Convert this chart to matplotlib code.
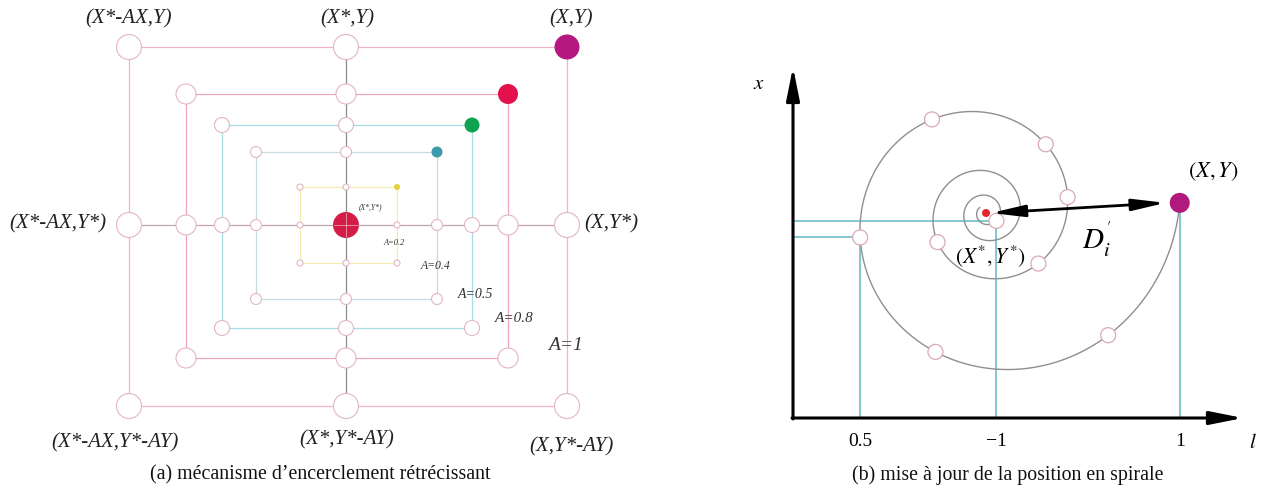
import numpy as np
import matplotlib.pyplot as plt
from matplotlib.patches import Circle

W, H = 1262, 497

# ---- panel (a): shrinking encircling ----
center_a = (346, 225)
A_labels = ['A=1', 'A=0.8', 'A=0.5', 'A=0.4', 'A=0.2']
half_left = [217, 160, 124, 90, 46]
half_right = [221, 162, 126, 91, 51]
half_up = [178, 131, 100, 73, 38]
half_down = [181, 133, 103, 74, 38]
node_r = [12.5, 10, 7.5, 5.5, 3]
line_colors = ['#f2b3c5', '#f0a6b9', '#a9dbe6', '#c9d9e2', '#f3ecb0']
corner_colors = ['#b5187f', '#e3124c', '#0fa351', '#3b9aab', '#e6cf3f']
A_label_xy = [(565, 346), (514, 319), (475, 294), (436, 266), (394, 243)]
A_label_size = [14, 11, 10, 8.5, 6]

corner_text = ['(X*-AX,Y)', '(X*,Y)', '(X,Y)', '(X*-AX,Y*)', '(X,Y*)',
               '(X*-AX,Y*-AY)', '(X*,Y*-AY)', '(X,Y*-AY)']
corner_text_xy = [(129, 19), (347, 19), (571, 19), (58, 224), (611, 224),
                  (115, 443), (347, 440), (571, 447)]

# ---- panel (b): spiral update ----
origin_b = (793, 418)
y_tip = 67
x_tip = 1243
sp_center = (986, 213)
sp_r0 = 194
sp_k = 0.138          # decay per radian
sp_start, sp_end = -3, 1300   # degrees
sp_marks = [45, 110, 169, 240, 311, 349, 404, 509, 1117]
tick_marks = {'0.5': 169, '\u22121': 1117}


def spiral_xy(deg):
    deg = np.asarray(deg, float)
    r = sp_r0 * np.exp(-sp_k * np.radians(deg - sp_start))
    t = np.radians(deg)
    return sp_center[0] + r * np.cos(t), sp_center[1] + r * np.sin(t)


fig = plt.figure(figsize=(W / 100, H / 100), dpi=100)
ax = fig.add_axes([0, 0, 1, 1])
ax.set_xlim(0, W)
ax.set_ylim(H, 0)
ax.set_aspect('equal')
ax.axis('off')

serif = 'Liberation Serif'
cx, cy = center_a

# center cross
ax.plot([cx, cx], [cy - half_up[0], cy + half_down[0]], color='#8c8c8c', lw=0.9, zorder=2)
ax.plot([cx - half_left[0], cx + half_right[0]], [cy, cy], color='#c4a6ae', lw=0.9, zorder=2)

for i in range(len(A_labels)):
    L, R = cx - half_left[i], cx + half_right[i]
    T, B = cy - half_up[i], cy + half_down[i]
    ax.plot([L, R, R, L, L], [T, T, B, B, T], color=line_colors[i], lw=0.9, zorder=1)
    nodes = [(L, T), (cx, T), (L, cy), (R, cy), (L, B), (cx, B), (R, B)]
    for (px, py) in nodes:
        ax.add_patch(Circle((px, py), node_r[i], facecolor='white',
                            edgecolor='#e2b6c3', lw=0.8, zorder=3))
    ax.add_patch(Circle((R, T), node_r[i], facecolor=corner_colors[i],
                        edgecolor='none', zorder=4))
    ax.text(*A_label_xy[i], A_labels[i], family=serif, style='italic',
            fontsize=A_label_size[i], ha='center', va='center', color='#333333', zorder=6)

ax.add_patch(Circle((cx, cy), 13, facecolor='#d31d46', edgecolor='none', zorder=4))
ax.plot([cx - 12, cx + 12], [cy, cy], color='#f3b8c4', lw=0.5, zorder=5)
ax.plot([cx, cx], [cy - 12, cy + 12], color='#f3b8c4', lw=0.5, zorder=5)
ax.text(cx + 24, cy - 18, '(X*,Y*)', family=serif, style='italic', fontsize=5.5,
        ha='center', va='center', color='#333333')

for txt, (tx, ty) in zip(corner_text, corner_text_xy):
    ax.text(tx, ty, txt, family=serif, style='italic', fontsize=15,
            ha='center', va='center', color='#222222')

ax.text(320, 475, '(a) mécanisme d\u2019encerclement rétrécissant', family=serif,
        fontsize=14.3, ha='center', va='center', color='#111111')

# ---- panel (b) ----
plt.rcParams['mathtext.fontset'] = 'stix'
ox, oy = origin_b
blue = '#62b7c8'

deg = np.linspace(sp_start, sp_end, 1500)
sx, sy = spiral_xy(deg)
ax.plot(sx, sy, color='#8f8f8f', lw=1.0, zorder=2)

px0, py0 = spiral_xy(sp_start)
ax.plot([px0, px0], [py0, oy], color=blue, lw=1.1, zorder=1)
for lab, d in tick_marks.items():
    mx, my = spiral_xy(d)
    ax.plot([mx, mx], [my, oy], color=blue, lw=1.1, zorder=1)
    ax.plot([ox, mx], [my, my], color=blue, lw=1.1, zorder=1)
    ax.text(mx, 442, lab, family=serif, fontsize=14, ha='center', va='center')
ax.text(px0, 442, '1', family=serif, fontsize=14, ha='center', va='center')

for d in sp_marks:
    mx, my = spiral_xy(d)
    ax.add_patch(Circle((mx, my), 7.5, facecolor='white', edgecolor='#d9a9b5',
                        lw=0.9, zorder=3))

ax.add_patch(Circle(sp_center, 4, facecolor='#e4262b', edgecolor='none', zorder=5))
ax.add_patch(Circle((px0, py0), 10, facecolor='#b01a7c', edgecolor='none', zorder=5))

# double arrow D'_i
ax.annotate('', xy=(sp_center[0] + 5, sp_center[1]), xytext=(px0 - 14, py0),
            arrowprops=dict(arrowstyle='<|-|>,head_length=2.0,head_width=0.35',
                            mutation_scale=10, lw=2, color='k',
                            shrinkA=0, shrinkB=0), zorder=6)

# axes with arrows
ax.annotate('', xy=(ox, y_tip), xytext=(ox, oy + 1),
            arrowprops=dict(arrowstyle='-|>,head_length=2.0,head_width=0.4',
                            mutation_scale=10, lw=2.2, color='k',
                            shrinkA=0, shrinkB=0), zorder=6)
ax.annotate('', xy=(x_tip, oy), xytext=(ox - 1, oy),
            arrowprops=dict(arrowstyle='-|>,head_length=2.0,head_width=0.4',
                            mutation_scale=10, lw=2.2, color='k',
                            shrinkA=0, shrinkB=0), zorder=6)

ax.text(759, 83, '$x$', fontsize=15, ha='center', va='center')
ax.text(1253, 442, '$l$', fontsize=15, ha='center', va='center')
ax.text(1213, 172, '$(X,Y)$', fontsize=16, ha='center', va='center')
ax.text(990, 256, '$(X^{*},Y^{*})$', fontsize=15.5, ha='center', va='center')
ax.text(1097, 240, "$D_i^{'}$", fontsize=21, ha='center', va='center')

ax.text(1008, 475, '(b) mise à jour de la position en spirale', family=serif,
        fontsize=14.3, ha='center', va='center', color='#111111')

fig.savefig('out.png', dpi=100, facecolor='white')
